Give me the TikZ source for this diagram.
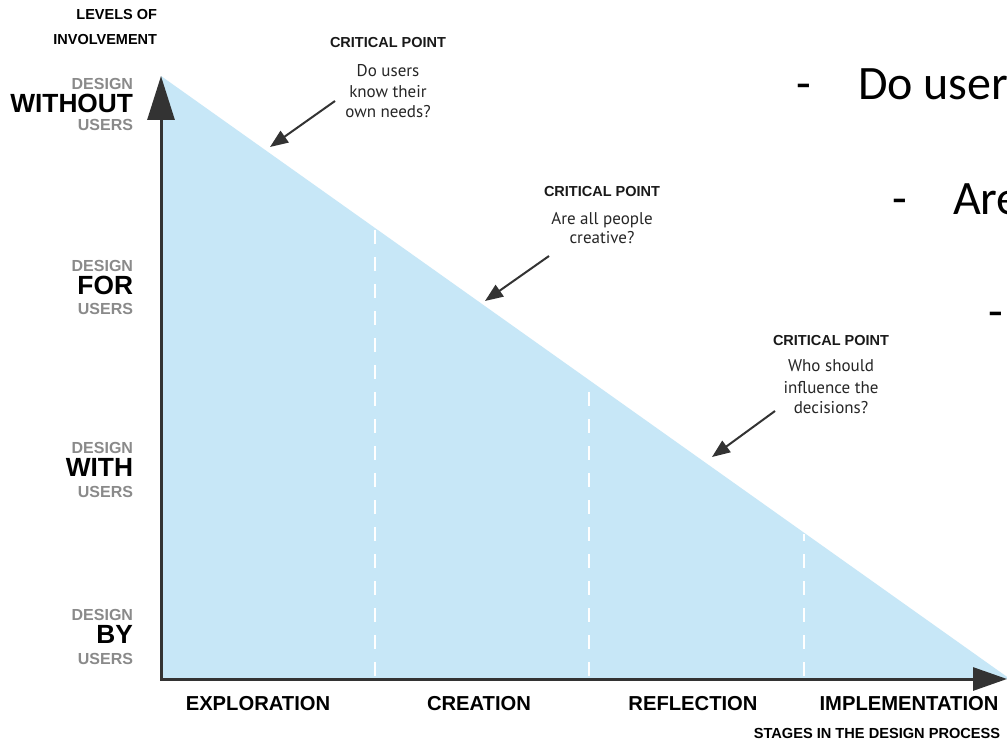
\documentclass[tikz,border=0pt]{standalone}
\usepackage{fontspec}
\setmainfont{Liberation Sans}
\newfontfamily\bodyfont{PT Sans}
\newfontfamily\slidefont{Carlito}
\usetikzlibrary{arrows.meta}
\definecolor{fillblue}{HTML}{C7E7F7}
\definecolor{axisgray}{HTML}{333333}
\definecolor{labelgray}{HTML}{8A8A8A}
\begin{document}
\begin{tikzpicture}[x=1pt,y=-1pt,
  every node/.style={inner sep=0pt, outer sep=0pt},
  lvlsmall/.style={anchor=base east, font=\bfseries\fontsize{16}{16}\selectfont, text=labelgray},
  lvlbig/.style={anchor=base east, font=\bfseries\fontsize{26.3}{26}\selectfont, text=black},
  axislabel/.style={anchor=base east, font=\bfseries\fontsize{14.5}{14.5}\selectfont, text=black},
  stagelabel/.style={anchor=base, font=\bfseries\fontsize{20.2}{20}\selectfont, text=black},
  axistitle/.style={anchor=base, font=\bfseries\fontsize{14.6}{14.5}\selectfont, text=black},
  cptitle/.style={anchor=base, font=\bfseries\fontsize{14.5}{14.5}\selectfont, text=black!90},
  cptext/.style={anchor=base, font=\bodyfont\fontsize{17}{17}\selectfont, text=black!85},
  cparrow/.style={draw=axisgray, line width=2pt, -{Triangle[length=18pt,width=14pt]}},
  slide/.style={anchor=base west, font=\slidefont\fontsize{48}{48}\selectfont, text=black},
  divider/.style={draw=white, line width=2.5pt, dash pattern=on 14pt off 13pt}
]
\clip (0,0) rectangle (1007,743);
\fill[white] (0,0) rectangle (1007,743);

% coordinates
\coordinate (origin) at (161,679);
\coordinate (apex) at (161,76);
\coordinate (hypend) at (1010,679);
\coordinate (xtip) at (1007,679);

% triangle
\fill[fillblue] (apex) -- (hypend) -- (origin) -- cycle;

% dividers
\coordinate (d1b) at (375,676); \coordinate (d1t) at (375,229);
\coordinate (d2b) at (589,676); \coordinate (d2t) at (589,381);
\coordinate (d3b) at (804,676); \coordinate (d3t) at (804,534);
\draw[divider] (d1b) -- (d1t);
\draw[divider] (d2b) -- (d2t);
\draw[divider] (d3b) -- (d3t);

% axes
\draw[draw=axisgray, line width=3pt, line join=miter,
      {Triangle[length=44pt,width=27pt]}-{Triangle[length=34pt,width=23pt]}]
      (apex) -- (origin) -- (xtip);

% axis titles
\node[axislabel] (lv1) at (157,20) {LEVELS OF};
\node[axislabel] (lv2) at (157,45) {INVOLVEMENT};
\node[axistitle] (stages) at (877,738) {STAGES IN THE DESIGN PROCESS};

% level labels
\node[lvlsmall] (w1) at (133,90) {DESIGN};
\node[lvlbig]   (w2) at (133,113) {WITHOUT};
\node[lvlsmall] (w3) at (133,131) {USERS};

\node[lvlsmall] (f1) at (133,272) {DESIGN};
\node[lvlbig]   (f2) at (133,295) {FOR};
\node[lvlsmall] (f3) at (133,315) {USERS};

\node[lvlsmall] (h1) at (133,453) {DESIGN};
\node[lvlbig]   (h2) at (133,476) {WITH};
\node[lvlsmall] (h3) at (133,497) {USERS};

\node[lvlsmall] (b1) at (133,620) {DESIGN};
\node[lvlbig]   (b2) at (133,643) {BY};
\node[lvlsmall] (b3) at (133,664) {USERS};

% stage labels
\node[stagelabel] (s1) at (258,710) {EXPLORATION};
\node[stagelabel] (s2) at (479,710) {CREATION};
\node[stagelabel] (s3) at (693,710) {REFLECTION};
\node[stagelabel] (s4) at (909,710) {IMPLEMENTATION};

% critical point 1
\node[cptitle] (c1t) at (388,48) {CRITICAL POINT};
\node[cptext] (c1a) at (388,77) {Do users};
\node[cptext] (c1b) at (388,98) {know their};
\node[cptext] (c1c) at (388,118) {own needs?};
\coordinate (a1s) at (335,101);
\coordinate (a1e) at (270,147);
\draw[cparrow] (a1s) -- (a1e);

% critical point 2
\node[cptitle] (c2t) at (602,197) {CRITICAL POINT};
\node[cptext] (c2a) at (602,225) {Are all people};
\node[cptext] (c2b) at (602,244) {creative?};
\coordinate (a2s) at (549,256);
\coordinate (a2e) at (485,301);
\draw[cparrow] (a2s) -- (a2e);

% critical point 3
\node[cptitle] (c3t) at (831,345) {CRITICAL POINT};
\node[cptext] (c3a) at (831,372) {Who should};
\node[cptext] (c3b) at (831,393) {influence the};
\node[cptext] (c3c) at (831,413) {decisions?};
\coordinate (a3s) at (775,411);
\coordinate (a3e) at (712,457);
\draw[cparrow] (a3s) -- (a3e);

% slide text (cut at the right edge, as in the reference)
\node[slide] (q1d) at (796,100) {-};
\node[slide] (q1) at (858,100) {Do user};
\node[slide] (q2d) at (892,215) {-};
\node[slide] (q2) at (953,215) {Are};
\node[slide] (q3d) at (988,328) {-};
\end{tikzpicture}
\end{document}
